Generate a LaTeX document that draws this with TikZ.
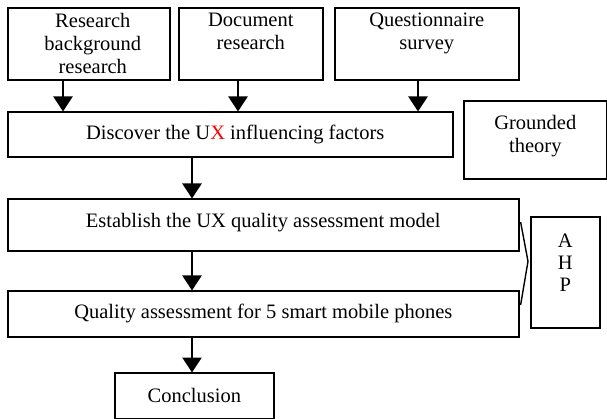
\documentclass[tikz,border=0pt]{standalone}
\usepackage{fontspec}
\setmainfont{Liberation Serif}
\usetikzlibrary{arrows.meta,calc}
\begin{document}
\begin{tikzpicture}[x=1pt,y=-1pt,
  box/.style={draw,line width=1.6pt,inner sep=0pt,anchor=north west},
  lbl/.style={font=\fontsize{20.5}{23}\selectfont,align=center,inner sep=0pt},
  arr/.style={line width=2.4pt,-{Triangle[length=15pt,width=19pt]},shorten >=-0.5pt},
  brace/.style={line width=1.4pt}]
\useasboundingbox (0,0) rectangle (607,419);
% top boxes
\node[box,minimum width=162pt,minimum height=72pt] (b1) at (7,7) {};
\node[box,minimum width=144pt,minimum height=72pt] (b2) at (178,7) {};
\node[box,minimum width=184pt,minimum height=72pt] (b3) at (334,7) {};
\node[lbl,anchor=north] at ($(b1.north)+(4,6)$) {Research\\background\\research};
\node[lbl,anchor=north] at ($(b2.north)+(0,6)$) {Document\\research};
\node[lbl,anchor=north] at ($(b3.north)+(0,6)$) {Questionnaire\\survey};
% main boxes
\node[box,minimum width=445pt,minimum height=45pt] (disc) at (7,111) {};
\node[lbl] at ($(disc.center)+(5,0)$) {Discover the U\textcolor{red}{X} influencing factors};
\node[box,minimum width=143pt,minimum height=78pt] (gt) at (463,100) {};
\node[lbl,anchor=north] at ($(gt.north)+(0,15)$) {Grounded\\theory};
\node[box,minimum width=511pt,minimum height=52pt] (est) at (7,198) {};
\node[lbl] at ($(est.center)+(0,-2)$) {Establish the UX quality assessment model};
\node[box,minimum width=511pt,minimum height=46pt] (qual) at (7,290) {};
\node[lbl] at (qual.center) {Quality assessment for 5 smart mobile phones};
\node[box,minimum width=159pt,minimum height=46pt] (conc) at (114,372) {};
\node[lbl] at (conc.center) {Conclusion};
\node[box,minimum width=69pt,minimum height=111pt] (ahp) at (530,216) {};
\node[lbl,anchor=north,font=\fontsize{20.5}{22}\selectfont] at ($(ahp.north)+(0,18)$) {A\\H\\P};
% arrows
\draw[arr] (b1.south -| 63,0) -- (disc.north -| 63,0);
\draw[arr] (b2.south -| 238,0) -- (disc.north -| 238,0);
\draw[arr] (b3.south -| 418,0) -- (disc.north -| 418,0);
\draw[arr] (disc.south -| 192,0) -- (est.north -| 192,0);
\draw[arr] (est.south -| 192,0) -- (qual.north -| 192,0);
\draw[arr] (qual.south -| 192,0) -- (conc.north -| 192,0);
% brace lines
\coordinate (join) at ($(ahp.west)+(-2,-11)$);
\draw[brace] ($(est.north east)+(1,24)$) -- (join) -- ($(qual.north east)+(1,15)$);
\end{tikzpicture}
\end{document}
